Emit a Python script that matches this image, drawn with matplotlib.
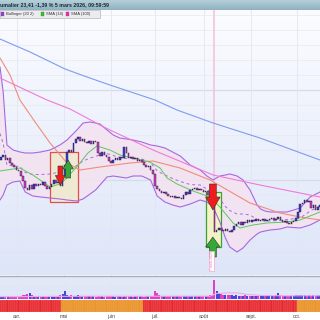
import numpy as np
import matplotlib
matplotlib.use("Agg")
import matplotlib.pyplot as plt
from matplotlib.patches import Rectangle, Polygon
from matplotlib.colors import LinearSegmentedColormap

plt.rcParams['font.family'] = ['Liberation Sans', 'DejaVu Sans']

# ---------------- data ----------------
header_text = "umalier 23,41 -1,39 % 5 mars 2026, 09:59:59"
first_open = 24.0
closes = [24.3, 24.5, 24.0, 24.2, 23.7, 23.5, 23.3, 23.0, 22.9, 22.4,
          21.9, 21.2, 21.0, 21.5, 21.1, 21.6, 21.4, 21.6, 21.5, 21.8,
          21.4, 21.1, 21.3, 21.6, 22.0, 21.7, 21.8, 21.4, 22.4, 23.5,
          24.8, 25.0, 24.8, 25.7, 26.1, 26.3, 25.9, 26.1, 25.8, 25.7,
          25.9, 25.6, 25.9, 25.8, 24.7, 24.4, 24.8, 24.5, 24.3, 23.9,
          23.7, 24.0, 24.2, 24.0, 24.3, 24.2, 25.3, 24.7, 24.2, 24.3,
          24.1, 24.2, 23.9, 24.0, 23.8, 23.5, 23.3, 23.4, 23.0, 22.6,
          21.4, 21.1, 20.9, 20.7, 20.8, 20.6, 20.4, 20.3, 20.4, 20.2,
          20.3, 20.2, 20.1, 20.5, 20.8, 20.6, 21.0, 21.1, 21.2, 21.0,
          21.1, 21.0, 20.8, 20.9, 20.5, 20.3, 20.0, 16.8, 17.0, 17.2,
          17.0, 16.9, 17.1, 16.9, 16.8, 17.0, 17.4, 17.6, 17.8, 17.5,
          17.8, 17.7, 18.0, 17.8, 18.0, 17.9, 18.1, 17.9, 18.0, 18.1,
          17.9, 18.0, 18.1, 18.2, 18.0, 18.1, 18.3, 18.0, 17.8, 17.9,
          17.7, 17.6, 17.8, 17.9, 18.2, 18.8, 19.6, 19.7, 20.0, 19.8,
          19.9, 19.2, 19.5, 19.0, 19.3, 19.5]
volumes = [2, 2, 2.5, 2, 2, 2.5, 2, 2, 2.5, 3,
           4, 4.5, 5, 5.7, 4, 3, 3, 3.5, 3, 3,
           3, 3, 2.5, 3, 3.5, 3, 3, 4, 5, 8,
           4, 3.5, 4, 3.5, 3.5, 4, 3, 3, 3.5, 3,
           3, 3, 3, 2.5, 3.5, 3, 3, 2.5, 3, 3,
           3, 3, 2.5, 3, 3, 2.5, 3.5, 3, 3, 3,
           2.5, 3, 3, 3, 3.5, 2.5, 3, 3, 3, 3.5,
           7.7, 5.7, 4, 3.5, 3, 3, 3, 3.5, 3, 3,
           3, 3.5, 3, 3, 3, 3.5, 3, 3, 3, 3.5,
           3, 3, 3.5, 3, 3.5, 4, 4, 19, 7.7, 6,
           5.5, 4.5, 4, 4.5, 4, 4, 3.5, 4, 3.5, 3.5,
           3.5, 4, 3.5, 3.5, 3.5, 3, 3.5, 3.5, 3, 3.5,
           3.5, 3.5, 3, 3.5, 3.5, 4, 6, 4, 3.5, 3.5,
           3.5, 3.5, 3.5, 3, 4, 4, 4, 4.5, 4, 3.5,
           4, 3.5, 4, 3.5, 4, 4]
vol_avg_x = [-0.45, 20, 40, 60, 80, 95, 98, 103, 108, 112, 118, 130, 145]
vol_avg_y = [2.3, 2.5, 2.8, 2.7, 2.8, 2.8, 5.5, 6.2, 6.0, 4.5, 3.5, 3.2, 3.3]

# Bollinger (20 2) bands, sampled
bb_x = [-0.45, 1, 2.7, 5.5, 8.6, 11, 14.5, 18, 22.3, 26.8, 30, 34.5, 37.3, 40.5, 43, 45,
        48.2, 51, 54, 57, 60, 64, 68, 71, 74.5, 78, 81.5, 86, 90.5, 93.6, 96.4, 99.5,
        102, 104, 107.3, 110, 113.2, 116.4, 118, 120, 122.3, 126.8, 130, 136, 140.5, 145]
bb_upper = [33.3, 30.8, 25.5, 25.0, 24.8, 24.7, 24.7, 24.8, 25.0, 25.5, 26.0, 27.0, 27.7,
            27.8, 27.7, 27.6, 27.0, 26.5, 26.2, 26.1, 26.0, 25.8, 25.5, 25.4, 25.2, 24.8,
            24.4, 23.5, 23.0, 22.4, 22.0, 22.4, 22.5, 22.6, 22.4, 22.0, 21.0, 19.5, 19.1,
            18.9, 18.8, 18.8, 18.8, 19.2, 20.3, 20.8]
bb_lower = [20.0, 20.5, 21.5, 21.8, 21.9, 20.8, 20.4, 20.3, 20.2, 20.1, 20.0, 19.9, 20.1,
            20.6, 21.0, 21.5, 22.3, 22.4, 22.3, 22.2, 22.4, 22.4, 22.0, 20.4, 19.8, 19.5,
            19.3, 19.6, 20.0, 19.8, 19.3, 17.8, 16.2, 15.3, 14.8, 15.2, 16.0, 16.6, 16.8,
            16.9, 17.0, 17.1, 17.3, 17.2, 17.5, 18.0]

sma14_x = [-0.45, 8.6, 14.5, 19.1, 22.3, 26.8, 30.0, 32.3, 35.9, 39.5, 43.6, 49.5, 54.1,
           60.0, 67.7, 72.3, 75.5, 80.0, 87.3, 95.0, 99.5, 105.5, 108.6, 114.5, 120.9,
           130.0, 135.9, 145.0]
sma14_y = [22.9, 23.2, 22.5, 21.8, 21.3, 21.6, 22.2, 22.8, 23.7, 24.7, 25.4, 25.0, 24.5,
           24.2, 23.8, 23.2, 22.2, 21.6, 20.9, 20.3, 19.3, 17.7, 17.2, 17.5, 17.7, 17.8,
           18.0, 18.8]
sma100_x = [-0.45, 20.9, 31.4, 45.0, 49.5, 69.1, 96.4, 117.7, 145.0]
sma100_y = [32.2, 30.0, 29.1, 27.5, 27.0, 25.0, 22.5, 21.5, 20.3]
sma_mid_x = [-0.45, 4.1, 8.6, 15.5, 22.3, 30.0, 35.9, 45.0, 58.6, 69.1, 81.4, 95.0,
             113.2, 126.8, 135.9, 145.0]
sma_mid_y = [34.2, 32.5, 30.0, 27.8, 25.7, 23.7, 23.0, 23.3, 23.7, 23.9, 23.2, 22.0,
             19.7, 18.7, 18.3, 18.0]
sma_long_x = [-0.45, 13.2, 29.1, 39.1, 49.5, 70.0, 80.0, 96.4, 117.7, 145.0]
sma_long_y = [36.1, 34.8, 33.1, 32.3, 31.5, 30.0, 29.0, 27.7, 26.2, 24.0]

# signal zones: (start day, end day, low, high, colour)
zones = [(22.3, 35.0, 19.8, 24.8, 'red'), (93.2, 100.0, 15.3, 20.8, 'green')]
# signals: (day, kind, price of arrow tip, width in days, height in price)
signals = [(27.0, 'sell', 21.5, 4.6, 1.9), (30.5, 'buy', 24.0, 4.8, 1.8),
           (96.3, 'sell', 19.0, 6.6, 2.6), (96.3, 'buy', 16.3, 6.6, 2.0)]
event_day = 97
event_label = "7 août 2025"

regime_runs = [('R', 28), ('O', 37), ('R', 70), ('O', 11)]
months = ['avr.', 'mai', 'juin', 'juil.', 'août', 'sept.', 'oct.']
month_idx = [7.3, 28.6, 50.0, 70.0, 92.3, 113.6, 134.5]

# ---------------- figure ----------------
W = 320.0
fig = plt.figure(figsize=(3.2, 3.2), dpi=100)
fig.patch.set_facecolor('white')
XL = (-0.45, 145.0)

def grad(ax, c_top, c_bot):
    cmap = LinearSegmentedColormap.from_list('g', [c_top, c_bot])
    ax.imshow(np.linspace(0, 1, 256).reshape(-1, 1), cmap=cmap, aspect='auto',
              extent=(0, 1, 0, 1), transform=ax.transAxes, zorder=0)

# header
axh = fig.add_axes([0, 310 / W, 1, 10 / W])
axh.set_axis_off()
grad(axh, '#b6d0da', '#8db1c1')
axh.set_xlim(0, 1); axh.set_ylim(0, 1)
axh.text(0.0, 0.5, header_text, fontsize=3.8, color='#1b2b33', va='center', ha='left',
         fontweight='bold', transform=axh.transAxes)

# price panel
ax = fig.add_axes([0, 44.5 / W, 1, 265.5 / W])
ax.set_xlim(*XL)
ax.set_ylim(12.45, 39.0)
grad(ax, '#fbfcff', '#dde5f8')
for s in ax.spines.values():
    s.set_visible(False)
ax.set_xticks([]); ax.set_yticks([])
for g in np.arange(13.0, 39.0, 1.5):
    thick = abs(g - 31.0) < 0.01 or abs(g - 22.0) < 0.01
    ax.axhline(g, color='#d6dbea' if thick else '#e6e9f3', lw=0.9 if thick else 0.5, zorder=1)
for m in month_idx:
    ax.axvline(m, color='#e3e6f1', lw=0.6, zorder=1)

ax.fill_between(bb_x, bb_lower, bb_upper, color='#f4e2f0', alpha=0.85, zorder=2, lw=0)
ax.plot(bb_x, bb_upper, color='#a868e0', lw=0.8, zorder=3)
ax.plot(bb_x, bb_lower, color='#a868e0', lw=0.8, zorder=3)
bb_mid = (np.array(bb_upper) + np.array(bb_lower)) / 2
ax.plot(bb_x, bb_mid, color='#a070d8', lw=0.7, dashes=(3, 3), zorder=3)
ax.plot(sma_long_x, sma_long_y, color='#7f9bef', lw=0.8, zorder=3)
ax.plot(sma100_x, sma100_y, color='#f07ad8', lw=0.8, zorder=3)
ax.plot(sma_mid_x, sma_mid_y, color='#f28c7c', lw=0.8, zorder=3)
ax.plot(sma14_x, sma14_y, color='#5cc85c', lw=0.7, zorder=3)

# event marker line
ax.plot([event_day - 0.4, event_day - 0.4], [15.3, 39.0], color='#f6bfd6', lw=1.1, zorder=2)

# zones
zc = {'red': ('#e04545', '#efead3'), 'green': ('#2f9e2f', '#f5f3c4')}
for x0, x1, lo, hi, c in zones:
    ec, fc = zc[c]
    ax.add_patch(Rectangle((x0, lo), x1 - x0, hi - lo, facecolor=fc, edgecolor=ec,
                           lw=0.9, alpha=0.95, zorder=2.5))

# candles
opens = [first_open] + closes[:-1]
for i, (o, c) in enumerate(zip(opens, closes)):
    col = '#3d3ddc' if c >= o else '#d23cc8'
    lo, hi = min(o, c), max(o, c)
    h = max(hi - lo, 0.12)
    ax.add_patch(Rectangle((i - 0.35, lo), 0.7, h, facecolor=col, edgecolor='#1a1a2a',
                           lw=0.3, zorder=4))

# arrows
def arrow(x, tip, kind, w, hgt):
    d = -1 if kind == 'sell' else 1
    base = tip - d * hgt
    neck = tip - d * hgt * 0.5
    sw = w * 0.24
    pts = [(x, tip), (x - w / 2, neck), (x - sw, neck), (x - sw, base),
           (x + sw, base), (x + sw, neck), (x + w / 2, neck)]
    col = '#ee1c1c' if kind == 'sell' else '#36a836'
    ax.add_patch(Polygon(pts, closed=True, facecolor=col, edgecolor='#2a3a2a', lw=0.4, zorder=5))

for x, kind, tip, w, hgt in signals:
    arrow(x, tip, kind, w, hgt)

ax.text(event_day - 1.3, 13.9, event_label, rotation=90, fontsize=2.6, color='#f080b8',
        ha='center', va='center', zorder=6,
        bbox=dict(boxstyle='square,pad=0.25', fc='white', ec='#f4a8cc', lw=0.5))

# legend row
ax.add_patch(Rectangle((0, 1 - 7.5 / 265.5), 100 / W, 7.5 / 265.5, transform=ax.transAxes,
                       facecolor='#ececee', edgecolor='#b8b8bc', lw=0.5, zorder=7))
leg = [('#9a3be0', 'Bollinger (20 2)', 1), ('#22cc22', 'SMA (14)', 41), ('#ff22c8', 'SMA (100)', 66)]
for col, lab, px in leg:
    ax.add_patch(Rectangle((px / W, 1 - 6 / 265.5), 3 / W, 3.5 / 265.5, transform=ax.transAxes,
                           facecolor=col, edgecolor='#555555', lw=0.2, zorder=8))
    ax.text((px + 5) / W, 1 - 3.8 / 265.5, lab, transform=ax.transAxes, fontsize=3.0,
            color='#333333', va='center', ha='left', zorder=8)

# volume panel
axv = fig.add_axes([0, 21 / W, 1, 23.5 / W])
axv.set_xlim(*XL)
axv.set_ylim(0, 23.5)
grad(axv, '#e4eaf8', '#dce4f7')
for s in axv.spines.values():
    s.set_visible(False)
axv.spines['top'].set_visible(True)
axv.spines['top'].set_color('#a9aebb')
axv.spines['top'].set_linewidth(1.0)
axv.set_xticks([]); axv.set_yticks([])
for g in [7.0, 16.0]:
    axv.axhline(g, color='#e8ebf4', lw=0.5, zorder=1)
for m in month_idx:
    axv.axvline(m, color='#e3e6f1', lw=0.6, zorder=1)
vcols = ['#4545e0' if c >= o else '#e040c8' for o, c in zip(opens, closes)]
axv.bar(range(len(volumes)), volumes, width=0.85, color=vcols, zorder=3, lw=0)
axv.plot(vol_avg_x, vol_avg_y, color='#f2a6e6', lw=0.8, zorder=4)

# regime strip
axs = fig.add_axes([0, 8 / W, 1, 12.5 / W])
axs.set_xlim(*XL)
axs.set_ylim(0, 1)
for s in axs.spines.values():
    s.set_visible(False)
axs.set_yticks([])
reg = []
for k, n in regime_runs:
    reg += [k] * n
rc = {'R': '#e6252c', 'O': '#e8962c'}
axs.bar(range(len(reg)), [1] * len(reg), width=1.0, bottom=0,
        color=[rc[r] for r in reg], edgecolor=['#f06a6a' if r == 'R' else '#eeaa55' for r in reg],
        lw=0.3)
axs.set_xticks(month_idx)
axs.set_xticklabels(months, fontsize=3.6, color='#444444')
axs.tick_params(axis='x', length=0, pad=1.2)

fig.savefig('out.png', dpi=100, facecolor='white')
